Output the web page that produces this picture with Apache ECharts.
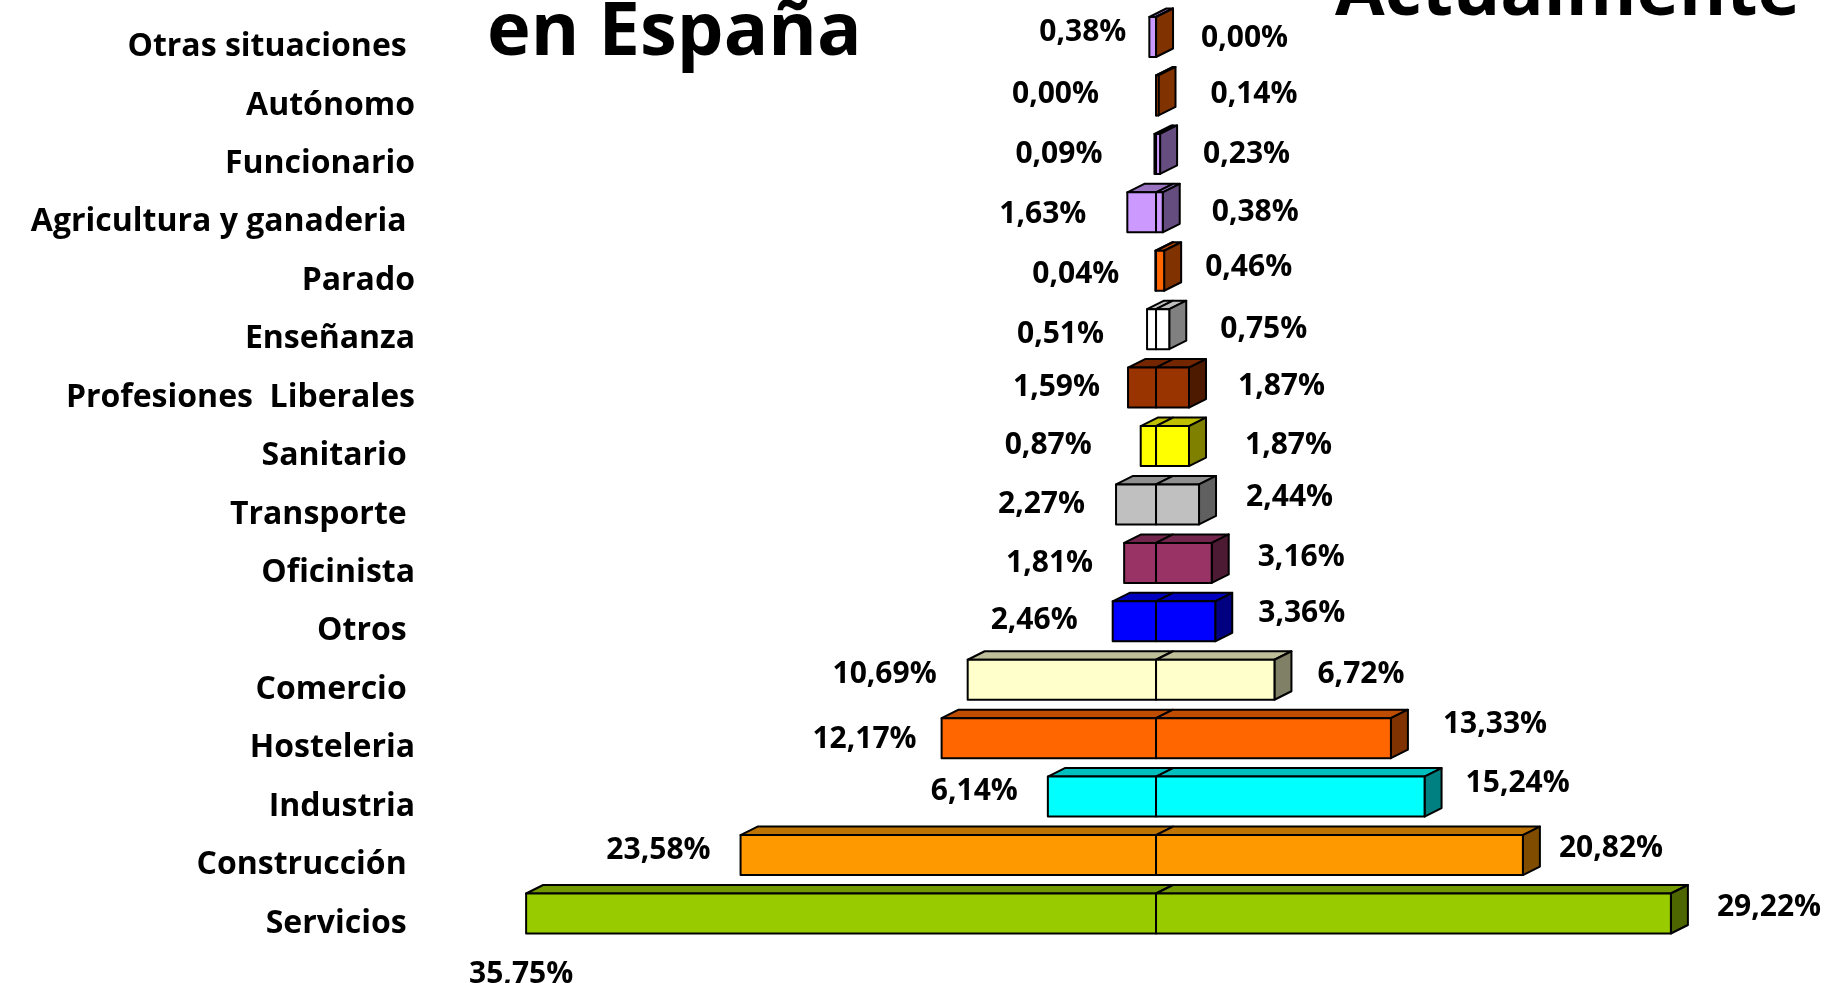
<!DOCTYPE html>
<html>
<head>
<meta charset="utf-8">
<script src="https://cdn.jsdelivr.net/npm/echarts@6/dist/echarts.min.js"></script>
<style>
  html, body { margin: 0; padding: 0; background: #fff; }
  #chart { width: 1841px; height: 983px; }
</style>
</head>
<body>
<div id="chart"></div>
<script>
// categories, top to bottom
var categories = ['Otras situaciones ', 'Autónomo', 'Funcionario', 'Agricultura y ganaderia ',
    'Parado', 'Enseñanza', 'Profesiones  Liberales', 'Sanitario ', 'Transporte ', 'Oficinista',
    'Otros ', 'Comercio ', 'Hosteleria', 'Industria', 'Construcción ', 'Servicios '];

// % en España (left side)
var espana = [0.38, 0.00, 0.09, 1.63, 0.04, 0.51, 1.59, 0.87, 2.27, 1.81, 2.46, 10.69, 12.17, 6.14, 23.58, 35.75];
// % actualmente (right side)
var actualmente = [0.00, 0.14, 0.23, 0.38, 0.46, 0.75, 1.87, 1.87, 2.44, 3.16, 3.36, 6.72, 13.33, 15.24, 20.82, 29.22];

// front face colours per row
var leftColors = ['#CC99FF', '#FF6600', '#CC99FF', '#CC99FF', '#FF6600', '#FFFFFF', '#993300', '#FFFF00',
    '#C0C0C0', '#993366', '#0000FF', '#FFFFCC', '#FF6600', '#00FFFF', '#FF9900', '#99CC00'];
var rightColors = ['#FF6600', '#FF6600', '#CC99FF', '#CC99FF', '#FF6600', '#FFFFFF', '#993300', '#FFFF00',
    '#C0C0C0', '#993366', '#0000FF', '#FFFFCC', '#FF6600', '#00FFFF', '#FF9900', '#99CC00'];

// labels were dragged by hand in the original, small pixel nudges [dx, dy]
var leftLabelNudge = [[7, 2], [-27, 6], [-22, 8], [-11, 9], [-6, 11], [-13, 12], [2, 7], [-19, 6],
    [-1, 7], [-1, 8], [-5, 6], [-1, 2], [5, 8], [0, 2], [0, 2], [0, -1]];
var rightLabelNudge = [[0, 8], [7, 6], [-2, 8], [4, 7], [-4, 4], [6, 7], [4, 6], [11, 6],
    [2, 0], [1, 2], [-2, -1], [-2, 2], [7, -7], [-4, -6], [-9, 0], [1, 1]];

var FONT = "'Open Sans', 'DejaVu Sans', sans-serif";
var DEPTH_X = 17, DEPTH_Y = 8.5, BOX_H = 40, BOX_SHIFT = -10;

function shade(hex, f) {
    var n = parseInt(hex.slice(1), 16);
    var r = Math.round(((n >> 16) & 255) * f);
    var g = Math.round(((n >> 8) & 255) * f);
    var b = Math.round((n & 255) * f);
    return 'rgb(' + r + ',' + g + ',' + b + ')';
}

function pct(v) {
    return v.toFixed(2).replace('.', ',') + '%';
}

var rows = [];
for (var i = 0; i < categories.length; i++) {
    rows.push([i, espana[i], actualmente[i]]);
}

function renderBox(params, api) {
    var idx = params.dataIndex;
    var row = api.value(0);
    var left = api.value(1), right = api.value(2);
    var c = api.coord([0, row]);
    var xL = api.coord([-left, row])[0];
    var xR = api.coord([right, row])[0];
    var x0 = c[0];
    var yc = c[1] + BOX_SHIFT;
    var yt = yc - BOX_H / 2, yb = yc + BOX_H / 2;
    var dx = DEPTH_X, dy = DEPTH_Y;
    var lc = leftColors[idx], rc = rightColors[idx];
    var stroke = {stroke: '#000', lineWidth: 2, lineJoin: 'round'};

    var children = [
        // top faces
        {type: 'polygon', shape: {points: [[xL, yt], [xL + dx, yt - dy], [x0 + dx, yt - dy], [x0, yt]]},
            style: Object.assign({fill: shade(lc, 0.75)}, stroke)},
        {type: 'polygon', shape: {points: [[x0, yt], [x0 + dx, yt - dy], [xR + dx, yt - dy], [xR, yt]]},
            style: Object.assign({fill: shade(rc, 0.75)}, stroke)},
        // side face
        {type: 'polygon', shape: {points: [[xR, yt], [xR + dx, yt - dy], [xR + dx, yb - dy], [xR, yb]]},
            style: Object.assign({fill: shade(rc, 0.5)}, stroke)},
        // front faces
        {type: 'rect', shape: {x: xL, y: yt, width: x0 - xL, height: BOX_H},
            style: Object.assign({fill: lc}, stroke)},
        {type: 'rect', shape: {x: x0, y: yt, width: xR - x0, height: BOX_H},
            style: Object.assign({fill: rc}, stroke)}
    ];

    var font = 'bold 30px ' + FONT;
    var labelY = yc - 7;
    var nl = leftLabelNudge[idx], nr = rightLabelNudge[idx];
    if (categories[idx].trim() === 'Servicios') {
        // the biggest bar has its left label below it
        children.push({type: 'text', style: {text: pct(left), x: xL - 5 + nl[0], y: yb + 42 + nl[1],
            align: 'center', verticalAlign: 'middle', font: font, fill: '#000'}});
    } else {
        children.push({type: 'text', style: {text: pct(left), x: xL - 30 + nl[0], y: labelY + nl[1],
            align: 'right', verticalAlign: 'middle', font: font, fill: '#000'}});
    }
    children.push({type: 'text', style: {text: pct(right), x: xR + dx + 28 + nr[0], y: labelY + nr[1],
        align: 'left', verticalAlign: 'middle', font: font, fill: '#000'}});

    return {type: 'group', children: children};
}

var chart = echarts.init(document.getElementById('chart'), null, {renderer: 'canvas'});

var option = {
    animation: false,
    backgroundColor: '#fff',
    grid: {left: 416, right: 15.4, top: 17.8, bottom: 30.3},
    xAxis: {
        type: 'value',
        min: -42,
        max: 38,
        show: false
    },
    yAxis: {
        type: 'category',
        inverse: true,
        data: categories,
        axisLine: {show: false, onZero: false},
        axisTick: {show: false},
        splitLine: {show: false},
        axisLabel: {
            margin: 1,
            color: '#000',
            fontFamily: FONT,
            fontWeight: 'bold',
            fontSize: 32
        }
    },
    graphic: [
        {type: 'text', left: 487, top: -3,
            style: {text: 'en España', font: 'bold 74px ' + FONT, fill: '#000'}},
        {type: 'text', left: 1335, top: -42,
            style: {text: 'Actualmente', font: 'bold 72px ' + FONT, fill: '#000'}}
    ],
    series: [{
        type: 'custom',
        renderItem: renderBox,
        encode: {x: [1, 2], y: 0},
        data: rows,
        clip: false
    }]
};

chart.setOption(option);
</script>
</body>
</html>
